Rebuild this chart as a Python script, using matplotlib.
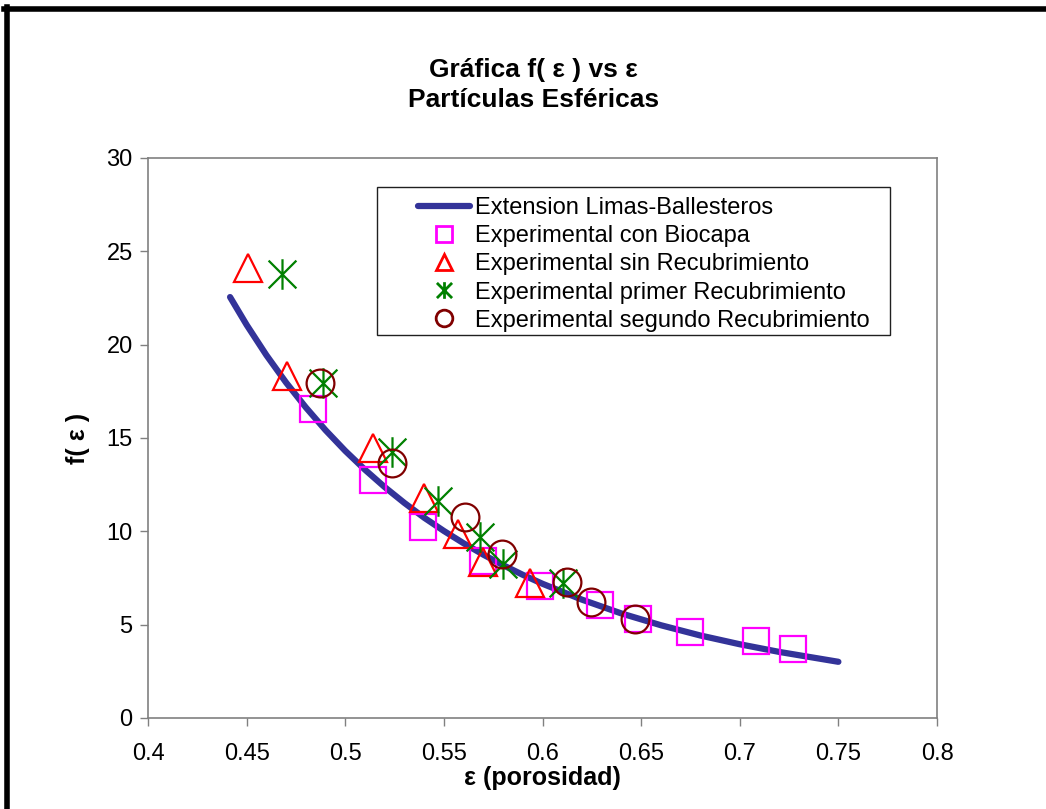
import matplotlib
matplotlib.use("Agg")
import matplotlib.pyplot as plt
from matplotlib.path import Path
from matplotlib.patches import Rectangle
from matplotlib.lines import Line2D

plt.rcParams['font.family'] = ['Liberation Sans', 'DejaVu Sans']

# curve
curve_x = [0.4416, 0.45, 0.46, 0.47, 0.48, 0.49, 0.50, 0.51, 0.52, 0.53, 0.54, 0.55,
           0.56, 0.57, 0.58, 0.59, 0.60, 0.62, 0.64, 0.66, 0.68, 0.70, 0.72, 0.75]
curve_y = [22.55, 21.06, 19.44, 17.97, 16.64, 15.42, 14.31, 13.30, 12.37, 11.52, 10.73, 10.02,
           9.36, 8.75, 8.19, 7.67, 7.19, 6.34, 5.60, 4.97, 4.42, 3.95, 3.54, 3.01]

biocapa_x = [0.4837, 0.514, 0.5395, 0.570, 0.5988, 0.6292, 0.6485, 0.675, 0.708, 0.727]
biocapa_y = [16.55, 12.75, 10.23, 8.41, 7.07, 6.05, 5.3, 4.62, 4.12, 3.7]

sin_x = [0.4507, 0.4705, 0.514, 0.540, 0.557, 0.570, 0.5937]
sin_y = [24.13, 18.3, 14.49, 11.81, 9.85, 8.37, 7.23]

primer_x = [0.468, 0.4887, 0.5237, 0.547, 0.5683, 0.580, 0.6105]
primer_y = [23.8, 17.95, 14.25, 11.62, 9.69, 8.25, 7.23]

segundo_x = [0.4872, 0.5237, 0.5607, 0.5795, 0.6125, 0.6246, 0.647]
segundo_y = [17.95, 13.66, 10.77, 8.78, 7.28, 6.21, 5.3]

x_ticks = [0.4, 0.45, 0.5, 0.55, 0.6, 0.65, 0.7, 0.75, 0.8]
x_tick_labels = ['0.4', '0.45', '0.5', '0.55', '0.6', '0.65', '0.7', '0.75', '0.8']
y_ticks = [0, 5, 10, 15, 20, 25, 30]

# excel style asterisk: X plus a vertical bar
star = Path([(-1, -1), (1, 1), (-1, 1), (1, -1), (0, -1.1), (0, 1.1)],
            [Path.MOVETO, Path.LINETO, Path.MOVETO, Path.LINETO, Path.MOVETO, Path.LINETO])

fig = plt.figure(figsize=(10.46, 8.09), dpi=100)
ax = fig.add_axes([0.1415, 0.1125, 0.7543, 0.6922])

ax.plot(curve_x, curve_y, color='#333399', lw=4.5, solid_capstyle='round',
        label='Extension Limas-Ballesteros', zorder=2)
ax.plot(biocapa_x, biocapa_y, ls='none', marker='s', ms=19, mfc='none', mec='#FF00FF',
        mew=1.6, label='Experimental con Biocapa', zorder=3)
ax.plot(sin_x, sin_y, ls='none', marker='^', ms=20, mfc='none', mec='#FF0000',
        mew=1.6, label='Experimental sin Recubrimiento', zorder=3)
ax.plot(primer_x, primer_y, ls='none', marker=star, ms=22, mfc='none', mec='#008000',
        mew=1.6, label='Experimental primer Recubrimiento', zorder=3)
ax.plot(segundo_x, segundo_y, ls='none', marker='o', ms=20, mfc='none', mec='#800000',
        mew=1.6, label='Experimental segundo Recubrimiento', zorder=3)

ax.set_xlim(0.4, 0.8)
ax.set_ylim(0, 30)
ax.set_xticks(x_ticks)
ax.set_xticklabels(x_tick_labels)
ax.set_yticks(y_ticks)
ax.tick_params(direction='out', length=6, width=1, color='#808080', labelsize=17, pad=5)
ax.tick_params(axis='x', pad=12)
for sp in ax.spines.values():
    sp.set_color('#808080')
    sp.set_linewidth(1.2)

ax.set_xlabel('ε (porosidad)', fontsize=18, fontweight='bold', labelpad=1)
ax.set_ylabel('f( ε )', fontsize=18, fontweight='bold', labelpad=12)

fig.text(0.510, 0.914, 'Gráfica f( ε ) vs ε', ha='center', va='center',
         fontsize=19, fontweight='bold')
fig.text(0.510, 0.877, 'Partículas Esféricas', ha='center', va='center',
         fontsize=19, fontweight='bold')

# legend frame drawn separately so the entries sit inset as in the original
ax.add_patch(Rectangle((0.290, 0.684), 0.650, 0.264, transform=ax.transAxes,
                       fill=True, fc='white', ec='#202020', lw=1.0, zorder=4))
leg = ax.legend(loc='upper left', bbox_to_anchor=(0.342, 0.930), frameon=False,
                fontsize=17, handlelength=2.2, handletextpad=0.2, borderpad=0,
                labelspacing=0.26, borderaxespad=0)
leg.set_zorder(5)
for h in leg.legend_handles[1:]:
    h.set_markersize(12)
    h.set_markeredgewidth(2)

# outer black frame (top and left only visible)
fig.add_artist(Line2D([0.004, 1.0], [0.989, 0.989], color='black', lw=4))
fig.add_artist(Line2D([0.007, 0.007], [0.0, 0.991], color='black', lw=4))

fig.savefig('out.png', dpi=100)
